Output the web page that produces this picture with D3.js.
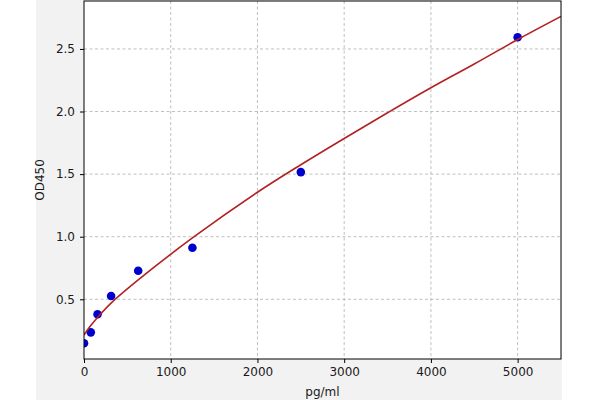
<!DOCTYPE html>
<html>
<head>
<meta charset="utf-8">
<script src="https://cdn.jsdelivr.net/npm/d3@7"></script>
<style>
  html, body { margin: 0; padding: 0; background: #ffffff; }
  svg { display: block; font-family: "DejaVu Sans", sans-serif; }
</style>
</head>
<body>
<svg id="chart" width="600" height="400"></svg>
<script>
// Standard concentrations (pg/ml) and measured OD450
const concentrations = [0, 78.125, 156.25, 312.5, 625, 1250, 2500, 5000];
const odValues = [0.149, 0.236, 0.38, 0.526, 0.728, 0.912, 1.516, 2.593];

// Fitted curve
const curveX = [0, 78, 156, 312, 625, 1250, 2000, 2500, 3000, 3500, 4000, 4500, 5000, 5500];
const curveY = [0.215, 0.29, 0.355, 0.47, 0.655, 0.99, 1.355, 1.575, 1.785, 1.99, 2.19, 2.38, 2.575, 2.76];

const xTicks = [0, 1000, 2000, 3000, 4000, 5000];
const yTicks = [0.5, 1.0, 1.5, 2.0, 2.5];
const xLabel = "pg/ml";
const yLabel = "OD450";

const svg = d3.select("#chart");
const m = { left: 84, right: 561, top: 1, bottom: 359 };

// figure background panel
svg.append("rect").attr("x", 36).attr("y", 0).attr("width", 526).attr("height", 400).attr("fill", "#f2f2f2");
svg.append("rect").attr("x", m.left).attr("y", m.top).attr("width", m.right - m.left).attr("height", m.bottom - m.top).attr("fill", "#ffffff");

const x = d3.scaleLinear().domain([0, 5500]).range([m.left, m.right]);
const y = d3.scaleLinear().domain([0.023, 2.883]).range([m.bottom, m.top]);

// grid
const grid = svg.append("g").attr("stroke", "#b0b0b0").attr("stroke-width", 0.8).attr("stroke-dasharray", "3,2.5");
grid.selectAll(".gx").data(xTicks.filter(d => d > 0)).enter().append("line")
  .attr("x1", d => x(d)).attr("x2", d => x(d)).attr("y1", m.top).attr("y2", m.bottom);
grid.selectAll(".gy").data(yTicks).enter().append("line")
  .attr("x1", m.left).attr("x2", m.right).attr("y1", d => y(d)).attr("y2", d => y(d));

svg.append("clipPath").attr("id", "clip").append("rect")
  .attr("x", m.left).attr("y", m.top).attr("width", m.right - m.left).attr("height", m.bottom - m.top);

const plot = svg.append("g").attr("clip-path", "url(#clip)");

plot.selectAll("circle").data(concentrations).enter().append("circle")
  .attr("cx", d => x(d)).attr("cy", (d, i) => y(odValues[i])).attr("r", 4.3)
  .attr("fill", "#0000cd");

const line = d3.line().x(d => x(d[0])).y(d => y(d[1])).curve(d3.curveCatmullRom.alpha(0.5));
plot.append("path").datum(curveX.map((v, i) => [v, curveY[i]]))
  .attr("d", line).attr("fill", "none").attr("stroke", "#b22222").attr("stroke-width", 1.6);

// frame
svg.append("rect").attr("x", m.left).attr("y", m.top).attr("width", m.right - m.left).attr("height", m.bottom - m.top)
  .attr("fill", "none").attr("stroke", "#000").attr("stroke-width", 1);

// axes
const xAxis = svg.append("g").attr("transform", `translate(0,${m.bottom})`)
  .call(d3.axisBottom(x).tickValues(xTicks).tickFormat(d3.format("d")).tickSize(4).tickPadding(4));
const yAxis = svg.append("g").attr("transform", `translate(${m.left},0)`)
  .call(d3.axisLeft(y).tickValues(yTicks).tickFormat(d3.format(".1f")).tickSize(4).tickPadding(5));
[xAxis, yAxis].forEach(a => {
  a.select(".domain").remove();
  a.selectAll("text").attr("font-size", 12).attr("fill", "#1a1a1a").attr("font-family", "DejaVu Sans, sans-serif");
  a.selectAll("line").attr("stroke", "#000");
});

svg.append("text").attr("x", (m.left + m.right) / 2).attr("y", 396).attr("text-anchor", "middle")
  .attr("font-size", 12).attr("fill", "#1a1a1a").text(xLabel);
svg.append("text").attr("transform", `translate(44,${(m.top + m.bottom) / 2}) rotate(-90)`).attr("text-anchor", "middle")
  .attr("font-size", 12).attr("fill", "#1a1a1a").text(yLabel);
</script>
</body>
</html>
